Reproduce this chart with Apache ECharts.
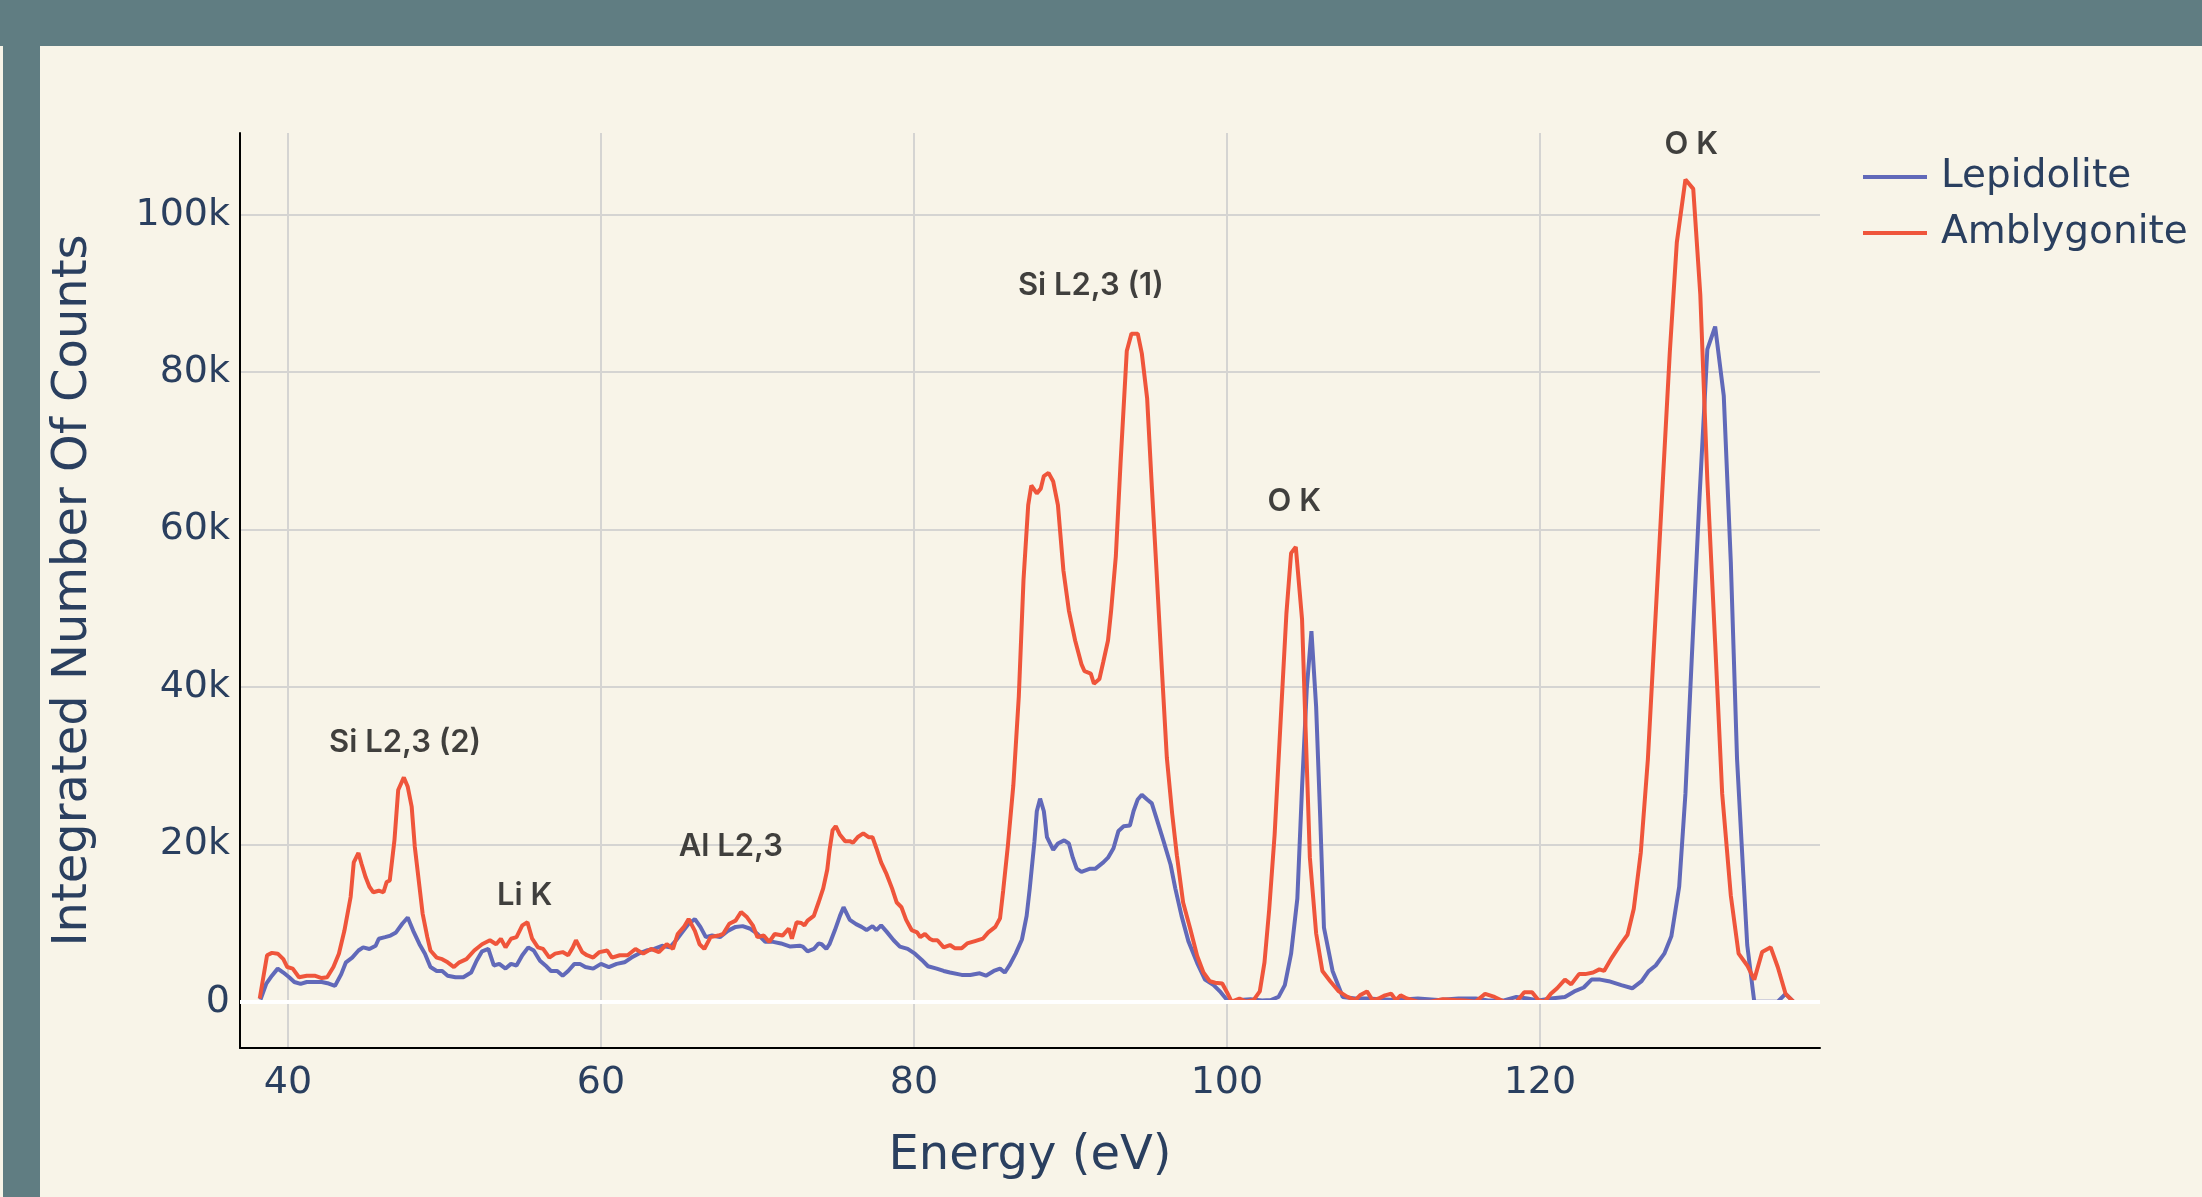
<!DOCTYPE html>
<html>
<head>
<meta charset="utf-8">
<script src="https://cdn.jsdelivr.net/npm/echarts@6/dist/echarts.min.js"></script>
<style>
html,body{margin:0;padding:0;width:2202px;height:1197px;overflow:hidden;background:#f8f4e8;}
#chart{width:2202px;height:1197px;}
</style>
</head>
<body>
<div id="chart"></div>
<script>
// ---- data (energies in eV, counts) ----
const lepidoliteEnergy = [38.24,38.6,38.97,39.34,39.7,40.07,40.4,40.8,41.2,41.7,42.15,42.6,43.0,43.4,43.7,44.1,44.5,44.8,45.2,45.6,45.8,46.2,46.55,46.9,47.3,47.65,48.0,48.4,48.75,49.1,49.5,49.85,50.2,50.7,51.2,51.7,52.05,52.4,52.8,53.15,53.5,53.9,54.25,54.6,54.97,55.35,55.7,56.1,56.45,56.8,57.2,57.55,57.9,58.3,58.65,59.0,59.5,60.0,60.5,61.0,61.5,61.95,62.4,62.9,63.4,63.9,64.4,64.8,65.1,65.6,66.0,66.35,66.7,67.1,67.6,68.1,68.6,69.05,69.5,70.0,70.5,71.0,71.5,72.1,72.7,72.9,73.2,73.6,73.9,74.1,74.4,74.6,74.95,75.27,75.5,75.9,76.3,76.65,76.97,77.35,77.6,77.9,78.25,78.7,79.1,79.6,80.06,80.5,80.9,81.45,81.9,82.3,83.05,83.6,84.2,84.6,85.1,85.5,85.8,86.1,86.5,86.9,87.2,87.4,87.7,87.85,88.06,88.3,88.5,88.9,89.2,89.6,89.9,90.15,90.4,90.7,91.26,91.6,92.1,92.4,92.75,93.07,93.4,93.8,94.03,94.3,94.56,94.9,95.2,95.5,95.95,96.4,96.7,97.1,97.55,98.1,98.6,99.15,99.6,100.1,100.4,100.85,101.5,102.25,102.8,103.3,103.7,104.1,104.5,104.8,105.1,105.4,105.7,105.96,106.2,106.75,107.4,108.2,109.0,109.8,110.85,112.2,113.5,114.8,115.9,116.7,117.7,118.5,119.2,119.9,120.7,121.6,122.2,122.8,123.3,123.85,124.4,125.2,125.9,126.5,126.96,127.4,127.95,128.4,128.9,129.3,129.7,130.2,130.7,131.2,131.75,132.2,132.6,133.0,133.25,133.7,134.3,135.2,135.7,136.2];
const lepidoliteCounts = [250,2250,3300,4200,3700,3100,2500,2250,2500,2500,2500,2300,2000,3500,5000,5600,6500,6900,6700,7100,8000,8200,8400,8800,9900,10700,9000,7300,6100,4400,3900,3900,3300,3100,3100,3700,5200,6400,6700,4600,4800,4200,4800,4600,5900,6900,6500,5200,4600,3900,3900,3300,3900,4800,4800,4400,4200,4800,4400,4800,5000,5600,6100,6500,6700,7100,6900,7800,8600,9900,10500,9500,8200,8400,8200,9000,9500,9600,9300,8600,7600,7600,7400,7000,7100,7000,6400,6700,7400,7300,6700,7300,9100,10900,12000,10400,9850,9500,9100,9600,9100,9700,8900,7800,7000,6700,6100,5300,4500,4200,3900,3700,3400,3400,3600,3300,3900,4200,3700,4600,6100,7900,10900,14400,20400,24200,25800,24200,20900,19300,20100,20500,20100,18300,16900,16500,16900,16900,17700,18300,19500,21700,22300,22400,24200,25700,26300,25700,25200,23300,20400,17400,14400,10900,7600,4900,2800,2100,1200,0,0,200,300,150,200,600,2100,6100,13100,27200,39700,47100,37500,23500,9400,3900,600,400,400,300,200,400,200,400,400,150,150,600,400,150,400,600,1300,1800,2800,2800,2600,2100,1700,2600,3900,4600,6100,8300,14600,26400,43400,64100,82900,85800,77000,55900,30800,16100,7200,0,0,0,1000,0];

const amblygoniteEnergy = [38.19,38.66,38.97,39.34,39.7,39.95,40.3,40.7,41.2,41.7,42.15,42.5,42.9,43.25,43.6,44.0,44.2,44.5,44.7,44.96,45.2,45.45,45.8,46.1,46.3,46.5,46.8,47.04,47.4,47.65,47.9,48.1,48.4,48.6,48.9,49.1,49.5,49.85,50.2,50.6,50.95,51.4,51.9,52.4,52.9,53.3,53.6,53.9,54.25,54.6,54.97,55.3,55.6,55.97,56.3,56.7,57.07,57.55,57.9,58.2,58.4,58.8,59.1,59.5,59.9,60.4,60.7,61.2,61.7,62.2,62.7,63.2,63.7,64.2,64.6,64.9,65.3,65.6,66.0,66.3,66.6,67.0,67.5,67.8,68.2,68.6,68.95,69.3,69.7,70.0,70.4,70.75,71.1,71.6,72.0,72.2,72.5,72.8,73.0,73.2,73.6,73.9,74.2,74.46,74.6,74.8,75.0,75.27,75.6,75.9,76.1,76.4,76.76,77.1,77.35,77.6,77.9,78.25,78.6,78.9,79.2,79.5,79.85,80.2,80.4,80.7,81.0,81.2,81.5,81.9,82.3,82.6,83.05,83.4,83.9,84.4,84.75,85.2,85.5,85.7,86.0,86.35,86.7,87.0,87.3,87.5,87.85,88.1,88.3,88.6,88.9,89.2,89.55,89.9,90.3,90.7,90.9,91.3,91.5,91.85,92.1,92.4,92.6,92.9,93.2,93.6,93.9,94.3,94.56,94.9,95.2,95.5,95.84,96.16,96.5,96.8,97.2,97.65,98.1,98.5,98.9,99.25,99.7,100.0,100.3,100.8,101.2,101.7,102.1,102.4,102.7,103.05,103.4,103.8,104.1,104.4,104.5,104.8,105.03,105.3,105.7,106.1,106.6,107.15,107.7,108.2,108.5,108.95,109.3,109.7,110.1,110.5,110.8,111.1,111.5,112.2,113.0,113.8,114.6,115.2,115.9,116.5,117.1,117.7,118.5,119.0,119.5,119.9,120.3,120.7,121.1,121.6,122.0,122.5,122.9,123.4,123.8,124.1,124.6,125.2,125.6,126.0,126.45,126.9,127.3,127.8,128.3,128.75,129.3,129.8,130.25,130.7,131.2,131.65,132.2,132.7,133.25,133.7,134.2,134.75,135.2,135.7,136.2];
const amblygoniteCounts = [400,5900,6200,6100,5400,4400,4200,3100,3300,3300,3000,3100,4400,6100,9000,13300,17700,18900,17500,15800,14600,13900,14100,13900,15200,15400,20500,26900,28500,27300,24800,19700,14600,11200,8200,6500,5600,5400,5000,4400,5000,5400,6500,7300,7800,7300,8000,6900,8000,8200,9700,10100,8000,6900,6700,5600,6100,6300,5900,6900,7800,6300,5900,5600,6300,6500,5600,5900,5900,6700,6100,6700,6300,7300,6700,8600,9500,10500,9000,7300,6700,8200,8400,8600,9900,10300,11400,10800,9700,8200,8400,7600,8600,8400,9300,8000,10100,10000,9700,10300,10900,12600,14400,16800,19200,21800,22300,21200,20400,20400,20200,20900,21400,20900,20900,19500,17700,16200,14400,12600,12000,10400,9100,8800,8200,8600,8000,7800,7800,6900,7200,6800,6800,7400,7700,8000,8800,9500,10600,14100,19800,27500,38800,53600,63100,65600,64600,65200,66800,67200,66100,63100,54800,49700,45900,42900,42000,41700,40400,41000,43200,45900,49700,56600,68400,82700,84900,84900,82400,76700,65500,54800,42300,31000,23900,18600,12600,9300,5800,3700,2600,2400,2300,1200,0,400,0,200,1300,5000,11700,21300,34500,49300,57000,57800,57800,48600,34500,18300,8700,3900,2600,1300,600,200,800,1300,200,400,800,1000,200,800,400,0,0,300,200,150,0,1000,600,0,0,1200,1200,200,0,1000,1700,2800,2200,3500,3500,3700,4100,3900,5600,7400,8500,11800,19000,30800,45600,64100,82500,96500,104500,103300,89900,66300,45600,26400,13500,6100,4600,2800,6300,6900,4400,1000,0];

// peak annotations (data coordinates)
const annotationText = ['Si L2,3 (2)','Li K','Al L2,3','Si L2,3 (1)','O K','O K'];
const annotationEnergy = [47.48,55.12,68.3,91.3,104.3,129.67];
const annotationCounts = [32950,13500,19700,91000,63500,108900];

const xTicks = [40,60,80,100,120];
const yTicks = [0,20000,40000,60000,80000,100000];

const seriesNames = ['Lepidolite','Amblygonite'];

// ---- build ----
function pairs(xs, ys){ return xs.map((x,i)=>[x, ys[i]]); }
const tickFont = {fontFamily:'DejaVu Sans', fontSize:38, color:'#2a3f5f'};

const chart = echarts.init(document.getElementById('chart'), null, {renderer:'canvas'});
chart.setOption({
  animation:false,
  backgroundColor:'#f8f4e8',
  graphic:[
    {type:'rect', shape:{x:0,y:0,width:2202,height:46}, style:{fill:'#607d82'}, silent:true, z:-10},
    {type:'rect', shape:{x:3,y:0,width:37,height:1197}, style:{fill:'#607d82'}, silent:true, z:-10}
  ],
  grid:{left:240, top:133, right:382, bottom:149, containLabel:false},
  legend:{
    data:seriesNames,
    orient:'vertical',
    left:1858, top:152,
    icon:'rect', itemWidth:64, itemHeight:4, itemGap:16,
    textStyle:{fontFamily:'DejaVu Sans', fontSize:39, color:'#2a3f5f', lineHeight:40, padding:[0,0,0,9]}
  },
  xAxis:{
    type:'value', min:36.93, max:137.9,
    name:'Energy (eV)', nameLocation:'middle', nameGap:85,
    nameTextStyle:{fontFamily:'DejaVu Sans', fontSize:48, color:'#2a3f5f'},
    axisLine:{show:true, onZero:false, lineStyle:{color:'#000', width:2}},
    axisTick:{show:false, customValues:xTicks},
    axisLabel:Object.assign({customValues:xTicks, margin:16}, tickFont),
    splitLine:{show:true, lineStyle:{color:'#d5d4d2', width:2}}
  },
  yAxis:{
    type:'value', min:-5890, max:110400,
    name:'Integrated Number Of Counts', nameLocation:'middle', nameGap:142, nameRotate:90,
    nameTextStyle:{fontFamily:'DejaVu Sans', fontSize:48, color:'#2a3f5f'},
    axisLine:{show:true, lineStyle:{color:'#000', width:2}},
    axisTick:{show:false, customValues:yTicks},
    axisLabel:Object.assign({customValues:yTicks, margin:10,
      formatter:v=> v===0 ? '0' : (v/1000)+'k'}, tickFont),
    splitLine:{show:true, lineStyle:{color:'#d5d4d2', width:2}}
  },
  series:[
    {
      name:'zero', type:'line', data:[], z:1, silent:true,
      markLine:{silent:true, symbol:'none', label:{show:false},
        lineStyle:{color:'#ffffff', width:4, type:'solid'},
        data:[{yAxis:0}]}
    },
    {
      name:seriesNames[0], type:'line', data:pairs(lepidoliteEnergy, lepidoliteCounts),
      showSymbol:false, symbol:'none', z:3,
      lineStyle:{color:'#6169b9', width:4}, itemStyle:{color:'#6169b9'}
    },
    {
      name:seriesNames[1], type:'line', data:pairs(amblygoniteEnergy, amblygoniteCounts),
      showSymbol:false, symbol:'none', z:4,
      lineStyle:{color:'#ef553b', width:4}, itemStyle:{color:'#ef553b'}
    },
    {
      name:'annotations', type:'scatter', symbolSize:0, silent:true, z:5,
      data:annotationText.map((t,i)=>({name:t, value:[annotationEnergy[i], annotationCounts[i]]})),
      label:{show:true, position:'inside', formatter:p=>p.name,
        fontFamily:'Inter', fontWeight:600, fontSize:31, color:'#111111'}
    }
  ]
});
</script>
</body>
</html>
